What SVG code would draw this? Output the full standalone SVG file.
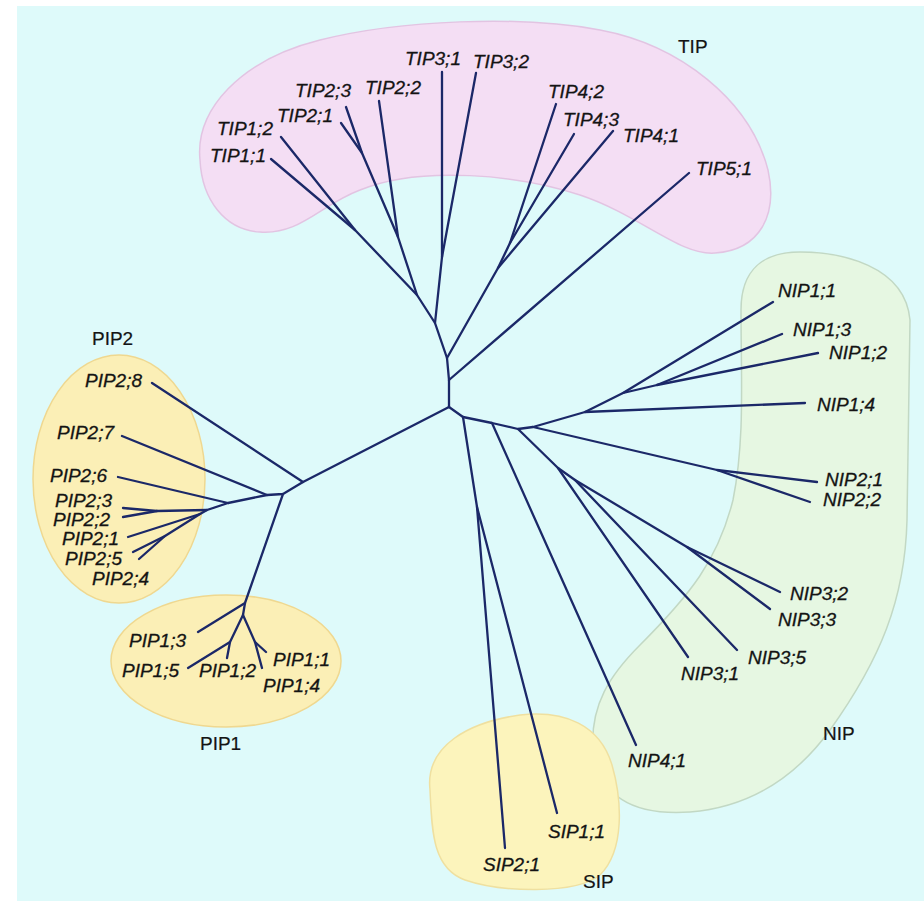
<svg xmlns="http://www.w3.org/2000/svg" width="924" height="901" viewBox="0 0 924 901">
<style>
.lf{font-family:"Liberation Sans",Arial,sans-serif;font-style:italic;font-size:19px;fill:#141414;stroke:#141414;stroke-width:0.3}
.gl{font-family:"Liberation Sans",Arial,sans-serif;font-size:19px;fill:#141414;stroke:#141414;stroke-width:0.2}
.br{fill:none;stroke:#1b2868;stroke-width:2.3;stroke-linecap:round;stroke-linejoin:round}
</style>
<rect x="0" y="0" width="924" height="901" fill="#ffffff"/>
<rect x="17" y="6" width="907" height="895" fill="#defafa"/>
<g id="cluster-TIP">
<path d="M200,160 C195,110 240,60 320,40 C400,20 520,15 600,30 C680,45 750,100 768,170 C778,215 760,250 715,253 C680,256 640,215 580,195 C520,175 420,165 360,190 C320,205 300,235 260,232 C225,230 202,200 200,160 Z" fill="#f4def4" stroke="#e2c4e2" stroke-width="1.5"/>
<text class="gl" x="678" y="53">TIP</text>
</g>
<g id="cluster-NIP">
<path d="M741,310 C741,270 763,252 800,252 C840,252 905,265 910,320 L907,520 C905,600 880,660 830,730 C790,785 740,808 690,812 C630,816 600,795 593,750 C590,705 610,675 640,645 C690,595 718,560 733,500 C745,440 741,380 741,310 Z" fill="#e6f7e2" stroke="#c2d8c4" stroke-width="1.5"/>
<text class="gl" x="823" y="740">NIP</text>
</g>
<g id="cluster-PIP2">
<ellipse cx="119" cy="479" rx="86" ry="124" fill="#fbefb6" stroke="#efd890" stroke-width="1.5"/>
<text class="gl" x="92" y="345">PIP2</text>
</g>
<g id="cluster-PIP1">
<ellipse cx="226" cy="661" rx="115" ry="66" fill="#fbefb6" stroke="#efd890" stroke-width="1.5"/>
<text class="gl" x="200" y="750">PIP1</text>
</g>
<g id="cluster-SIP">
<path d="M430,790 C425,745 470,722 520,715 C565,710 600,725 612,765 C622,800 625,850 600,875 C575,895 500,892 465,880 C432,868 432,830 430,790 Z" fill="#fcf4bc" stroke="#efe0a0" stroke-width="1.5"/>
<text class="gl" x="583" y="888">SIP</text>
</g>
<g id="connectors" class="br">
<path d="M449,407 L449,380 L447,358 L435,323 L417,295 L398,237 L362,153 L346,107"/>
<path d="M362,153 L341,123"/>
<path d="M398,237 L379,101"/>
<path d="M417,295 L355,230 L281,137"/>
<path d="M355,230 L271,159"/>
<path d="M435,323 L442,257 L442,72"/>
<path d="M442,257 L476,73"/>
<path d="M447,358 L498,268 L613,131"/>
<path d="M498,268 L510,243 L556,104"/>
<path d="M510,243 L574,134"/>
<path d="M449,380 L689,173"/>
<path d="M449,407 L303,482 L152,383"/>
<path d="M303,482 L283,494 L267,495 L228,503 L207,510 L157,511 L123,508"/>
<path d="M157,511 L123,517"/>
<path d="M267,495 L122,436"/>
<path d="M228,503 L118,477"/>
<path d="M207,510 L200,514 L128,537"/>
<path d="M200,514 L165,536 L133,552"/>
<path d="M165,536 L139,559"/>
<path d="M283,494 L245,603 L198,632"/>
<path d="M245,603 L243,615 L230,642 L188,668"/>
<path d="M230,642 L227,658"/>
<path d="M243,615 L255,642 L262,668"/>
<path d="M255,642 L266,652"/>
<path d="M449,407 L463,417 L477,507 L505,848"/>
<path d="M477,507 L557,813"/>
<path d="M463,417 L492,423 L636,745"/>
<path d="M492,423 L518,429 L533,427 L585,412 L805,403"/>
<path d="M585,412 L623,393 L773,302"/>
<path d="M623,393 L657,385 L782,334"/>
<path d="M657,385 L818,353"/>
<path d="M533,427 L717,470 L817,482"/>
<path d="M717,470 L810,502"/>
<path d="M518,429 L558,468 L688,657"/>
<path d="M558,468 L575,480 L737,650"/>
<path d="M575,480 L687,547 L780,592"/>
<path d="M687,547 L770,609"/>
</g>
<g id="leaf-TIP1-1"><text class="lf" x="210" y="162">TIP1;1</text></g>
<g id="leaf-TIP1-2"><text class="lf" x="217" y="135">TIP1;2</text></g>
<g id="leaf-TIP2-1"><text class="lf" x="277" y="122">TIP2;1</text></g>
<g id="leaf-TIP2-3"><text class="lf" x="295" y="97">TIP2;3</text></g>
<g id="leaf-TIP2-2"><text class="lf" x="365" y="94">TIP2;2</text></g>
<g id="leaf-TIP3-1"><text class="lf" x="405" y="65">TIP3;1</text></g>
<g id="leaf-TIP3-2"><text class="lf" x="473" y="68">TIP3;2</text></g>
<g id="leaf-TIP4-2"><text class="lf" x="548" y="98">TIP4;2</text></g>
<g id="leaf-TIP4-3"><text class="lf" x="563" y="126">TIP4;3</text></g>
<g id="leaf-TIP4-1"><text class="lf" x="623" y="142">TIP4;1</text></g>
<g id="leaf-TIP5-1"><text class="lf" x="696" y="175">TIP5;1</text></g>
<g id="leaf-PIP2-8"><text class="lf" x="85" y="387">PIP2;8</text></g>
<g id="leaf-PIP2-7"><text class="lf" x="57" y="439">PIP2;7</text></g>
<g id="leaf-PIP2-6"><text class="lf" x="50" y="482">PIP2;6</text></g>
<g id="leaf-PIP2-3"><text class="lf" x="55" y="507">PIP2;3</text></g>
<g id="leaf-PIP2-2"><text class="lf" x="53" y="526">PIP2;2</text></g>
<g id="leaf-PIP2-1"><text class="lf" x="62" y="545">PIP2;1</text></g>
<g id="leaf-PIP2-5"><text class="lf" x="65" y="565">PIP2;5</text></g>
<g id="leaf-PIP2-4"><text class="lf" x="92" y="585">PIP2;4</text></g>
<g id="leaf-PIP1-3"><text class="lf" x="129" y="647">PIP1;3</text></g>
<g id="leaf-PIP1-5"><text class="lf" x="122" y="677">PIP1;5</text></g>
<g id="leaf-PIP1-2"><text class="lf" x="199" y="677">PIP1;2</text></g>
<g id="leaf-PIP1-1"><text class="lf" x="273" y="666">PIP1;1</text></g>
<g id="leaf-PIP1-4"><text class="lf" x="263" y="692">PIP1;4</text></g>
<g id="leaf-SIP1-1"><text class="lf" x="548" y="838">SIP1;1</text></g>
<g id="leaf-SIP2-1"><text class="lf" x="483" y="871">SIP2;1</text></g>
<g id="leaf-NIP4-1"><text class="lf" x="628" y="767">NIP4;1</text></g>
<g id="leaf-NIP3-1"><text class="lf" x="681" y="680">NIP3;1</text></g>
<g id="leaf-NIP3-5"><text class="lf" x="748" y="664">NIP3;5</text></g>
<g id="leaf-NIP3-3"><text class="lf" x="778" y="626">NIP3;3</text></g>
<g id="leaf-NIP3-2"><text class="lf" x="790" y="600">NIP3;2</text></g>
<g id="leaf-NIP2-1"><text class="lf" x="825" y="486">NIP2;1</text></g>
<g id="leaf-NIP2-2"><text class="lf" x="823" y="506">NIP2;2</text></g>
<g id="leaf-NIP1-4"><text class="lf" x="817" y="411">NIP1;4</text></g>
<g id="leaf-NIP1-2"><text class="lf" x="829" y="359">NIP1;2</text></g>
<g id="leaf-NIP1-3"><text class="lf" x="793" y="336">NIP1;3</text></g>
<g id="leaf-NIP1-1"><text class="lf" x="778" y="297">NIP1;1</text></g>
</svg>
